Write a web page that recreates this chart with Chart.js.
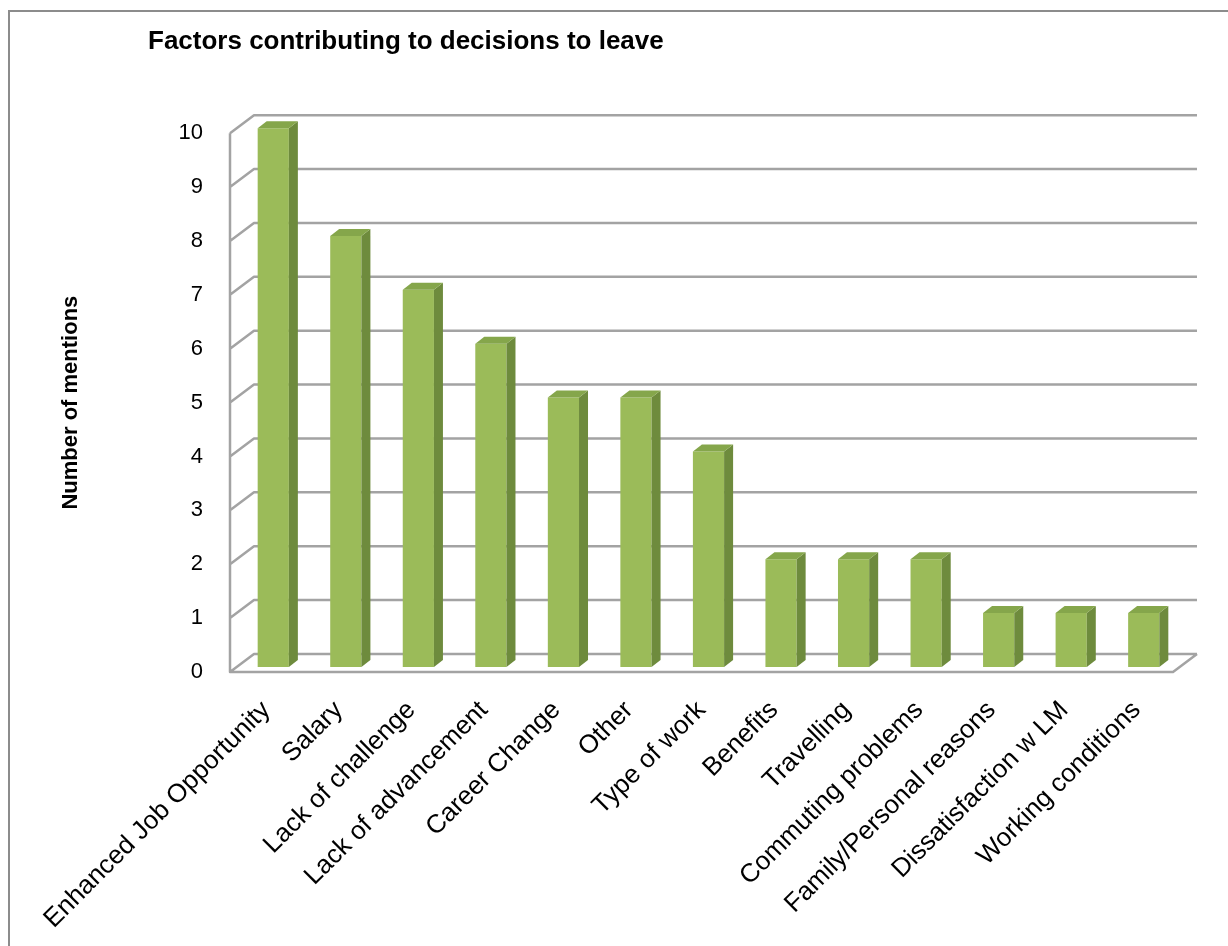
<!DOCTYPE html>
<html>
<head>
<meta charset="utf-8">
<script src="https://cdn.jsdelivr.net/npm/chart.js@4.4.0/dist/chart.umd.min.js"></script>
<style>
  body { margin: 0; background: #fff; }
</style>
</head>
<body>
<canvas id="chart" width="1228" height="946"></canvas>
<script>
// data
const categories = [
    'Enhanced Job Opportunity', 'Salary', 'Lack of challenge', 'Lack of advancement',
    'Career Change', 'Other', 'Type of work', 'Benefits', 'Travelling',
    'Commuting problems', 'Family/Personal reasons', 'Dissatisfaction w LM', 'Working conditions'
];
const mentions = [10, 8, 7, 6, 5, 5, 4, 2, 2, 2, 1, 1, 1];
const yTicks = [0, 1, 2, 3, 4, 5, 6, 7, 8, 9, 10];

// fake 3D look (Excel style)
const depthX = 24, depthY = -18;      // front plane -> back wall
const shiftX = 7, shiftY = -5;        // bars stand a bit behind the front plane
const barDX = 9, barDY = -7;          // bar thickness
const gridColor = '#a3a3a3';
const frontColor = '#9bbb59';
const sideColor = '#6e8b3d';
const topColor = '#85a64b';

const frame3d = {
    id: 'frame3d',
    beforeDraw(chart) {
        const ctx = chart.ctx;
        ctx.save();
        ctx.strokeStyle = '#8c8c8c';
        ctx.lineWidth = 2;
        ctx.strokeRect(9, 11, 1300, 1000);
        ctx.restore();
    },
    beforeDatasetsDraw(chart) {
        const { ctx, chartArea: a, scales: { y } } = chart;
        ctx.save();
        ctx.strokeStyle = gridColor;
        ctx.lineWidth = 2.5;
        ctx.lineJoin = 'round';
        ctx.beginPath();
        yTicks.forEach(v => {
            const py = y.getPixelForValue(v);
            ctx.moveTo(a.left, py);
            ctx.lineTo(a.left + depthX, py + depthY);
            ctx.lineTo(a.right + depthX, py + depthY);
        });
        ctx.moveTo(a.left, a.top);
        ctx.lineTo(a.left, a.bottom);
        ctx.lineTo(a.right, a.bottom);
        ctx.lineTo(a.right + depthX, a.bottom + depthY);
        ctx.stroke();
        ctx.restore();
        ctx.save();
        ctx.translate(shiftX, shiftY);
    },
    afterDatasetsDraw(chart) {
        const ctx = chart.ctx;
        chart.getDatasetMeta(0).data.forEach(bar => {
            const { x, y, width, base } = bar.getProps(['x', 'y', 'width', 'base'], true);
            const l = x - width / 2, r = x + width / 2;
            ctx.fillStyle = sideColor;
            ctx.beginPath();
            ctx.moveTo(r, y);
            ctx.lineTo(r + barDX, y + barDY);
            ctx.lineTo(r + barDX, base + barDY);
            ctx.lineTo(r, base);
            ctx.closePath();
            ctx.fill();
            ctx.fillStyle = topColor;
            ctx.beginPath();
            ctx.moveTo(l, y);
            ctx.lineTo(l + barDX, y + barDY);
            ctx.lineTo(r + barDX, y + barDY);
            ctx.lineTo(r, y);
            ctx.closePath();
            ctx.fill();
        });
        ctx.restore();
    }
};

new Chart(document.getElementById('chart'), {
    type: 'bar',
    data: {
        labels: categories,
        datasets: [{
            label: 'Number of mentions',
            data: mentions,
            backgroundColor: frontColor,
            borderWidth: 0,
            categoryPercentage: 1,
            barPercentage: 0.43,
            clip: false
        }]
    },
    options: {
        responsive: false,
        animation: false,
        layout: { padding: { left: 148, right: 55, top: 0, bottom: 0 } },
        plugins: {
            legend: { display: false },
            tooltip: { enabled: false },
            title: {
                display: true,
                text: 'Factors contributing to decisions to leave',
                align: 'start',
                color: '#000',
                font: { family: 'Liberation Sans', size: 26, weight: 'bold' },
                padding: { top: 26, bottom: 76 }
            }
        },
        scales: {
            x: {
                grid: { display: false },
                border: { display: false },
                afterFit: s => { s.height = 274; },
                ticks: {
                    autoSkip: false,
                    minRotation: 45,
                    maxRotation: 45,
                    padding: 15,
                    color: '#000',
                    font: { family: 'Liberation Sans', size: 26 }
                }
            },
            y: {
                min: 0,
                max: 10,
                grid: { display: false, drawTicks: false },
                border: { display: false },
                afterFit: s => { s.width = 82; },
                afterBuildTicks: s => { s.ticks = yTicks.map(v => ({ value: v })); },
                ticks: {
                    padding: 27,
                    color: '#000',
                    font: { family: 'Liberation Sans', size: 22 }
                },
                title: {
                    display: true,
                    text: 'Number of mentions',
                    color: '#000',
                    font: { family: 'Liberation Sans', size: 22, weight: 'bold' },
                    padding: { top: -90, bottom: 0 }
                }
            }
        }
    },
    plugins: [frame3d]
});
</script>
</body>
</html>
